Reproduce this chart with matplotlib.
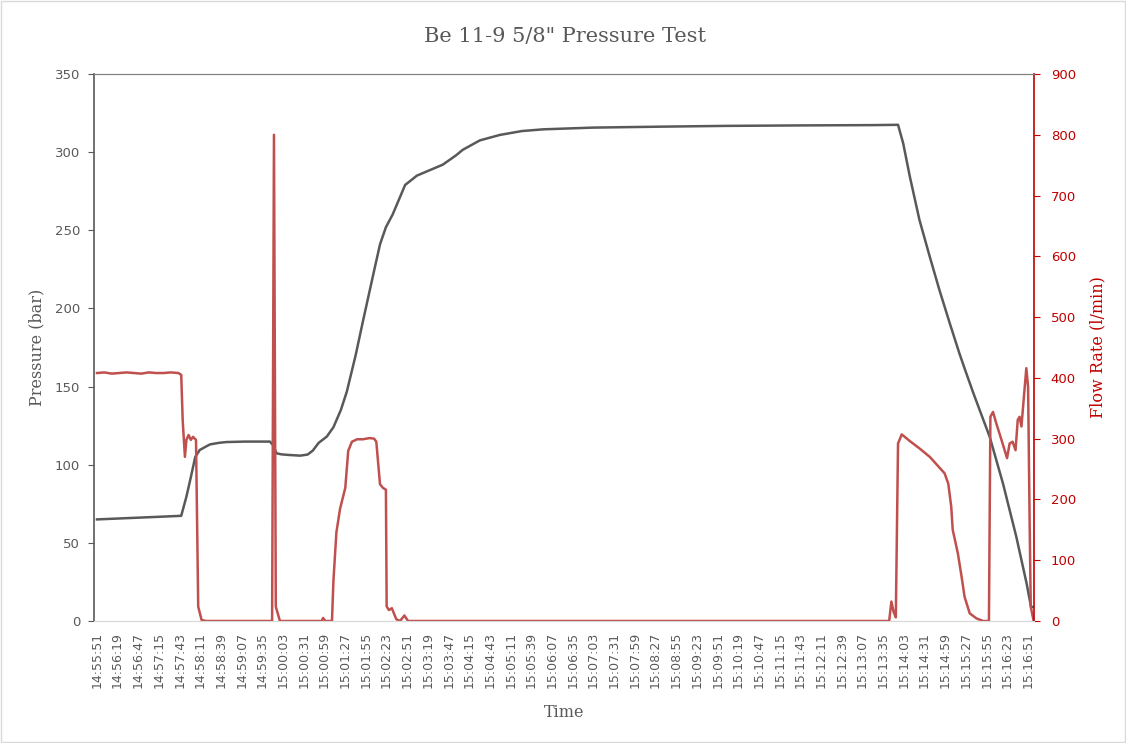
"""Pressure test chart: pressure (bar) and flow rate (l/min) against time."""

import matplotlib
matplotlib.use("Agg")
import matplotlib.pyplot as plt
from matplotlib.patches import Rectangle
import numpy as np

# seconds after 14:55:51
time_p = [0, 30, 60, 90, 114, 121, 127, 133, 139, 147, 153, 165, 175, 200, 234, 238,
          243, 250, 261, 275, 285, 292, 300, 311, 320, 330, 338, 350, 360, 374, 383,
          391, 400, 417, 433, 468, 486, 495, 518, 545, 575, 604, 671, 762, 850, 950,
          1050, 1084, 1091, 1100, 1113, 1127, 1140, 1154, 1167, 1174, 1186, 1208,
          1226, 1244, 1258, 1264, 1267]
pressure = [65, 65.6, 66.2, 66.8, 67.3, 79.5, 92, 105, 109.4, 111.5, 113, 114, 114.5,
            114.8, 114.8, 112.6, 107.3, 106.6, 106.2, 105.8, 106.5, 109, 114, 118, 124,
            135, 146.6, 170, 192, 222, 241, 252, 260, 279, 285, 292, 298, 301.5, 307.5,
            311, 313.5, 314.6, 315.7, 316.3, 316.8, 317.1, 317.3, 317.5, 305.6, 284.3,
            256.6, 233, 211.8, 190.5, 171.3, 161.7, 145.7, 117.9, 88, 54, 24, 9, 9]

time_f = [0, 10, 20, 30, 40, 50, 60, 70, 80, 90, 100, 110, 114, 116, 119, 121, 124,
          127, 130, 134, 137, 141.6, 148, 237, 239.5, 242, 247.6, 304, 306, 309, 318,
          320, 324, 329, 336, 340, 345, 352, 360, 369, 375, 378, 383, 387, 391, 392,
          395, 399, 405, 410, 416, 421, 1072, 1075, 1078, 1081, 1084, 1089, 1100, 1113,
          1127, 1147, 1152, 1156, 1158, 1165, 1170, 1174, 1181, 1190, 1199, 1207, 1209,
          1212.5, 1217, 1224, 1231.5, 1235, 1239, 1243, 1246, 1248.5, 1251, 1254,
          1257.6, 1260, 1262, 1263.6, 1267.5]
flow = [408, 409, 407, 408, 409, 408, 407, 409, 408, 408, 409, 408, 405, 330, 270, 298,
        306, 298, 303, 298, 23.5, 1.6, 0, 0, 800, 23.5, 0, 0, 5, 0, 0, 67, 146, 185, 219,
        280, 295, 299, 299, 301, 300, 295, 225, 219, 216, 24, 18, 21, 3, 0, 9, 0, 0, 32,
        15, 6, 292, 307, 296, 284, 270, 243, 226, 188, 150, 111, 73, 40, 12.6, 4.4, 0, 0,
        336, 344, 325, 298, 268, 292, 295, 281, 331, 336, 320, 364, 416, 385, 172, 23.5, 0]

time_labels = ["14:55:51", "14:56:19", "14:56:47", "14:57:15", "14:57:43", "14:58:11",
               "14:58:39", "14:59:07", "14:59:35", "15:00:03", "15:00:31", "15:00:59",
               "15:01:27", "15:01:55", "15:02:23", "15:02:51", "15:03:19", "15:03:47",
               "15:04:15", "15:04:43", "15:05:11", "15:05:39", "15:06:07", "15:06:35",
               "15:07:03", "15:07:31", "15:07:59", "15:08:27", "15:08:55", "15:09:23",
               "15:09:51", "15:10:19", "15:10:47", "15:11:15", "15:11:43", "15:12:11",
               "15:12:39", "15:13:07", "15:13:35", "15:14:03", "15:14:31", "15:14:59",
               "15:15:27", "15:15:55", "15:16:23", "15:16:51"]
label_step = 28  # seconds between category labels

GREY = "#595959"
RED = "#C00000"
FLOW = "#C0504D"

fig = plt.figure(figsize=(11.26, 7.43), dpi=100)
ax = fig.add_axes([0.0835, 0.1642, 0.9183 - 0.0835, 0.9004 - 0.1642])
ax2 = ax.twinx()

ax.plot(time_p, pressure, color=GREY, lw=1.8, solid_joinstyle="round")
ax2.plot(time_f, flow, color=FLOW, lw=1.8, solid_joinstyle="round")

ax.set_xlim(-4, 1268)
ax.set_ylim(0, 350)
ax.set_yticks(np.arange(0, 351, 50))
ax2.set_ylim(0, 900)
ax2.set_yticks(np.arange(0, 901, 100))

ax.set_xticks(np.arange(len(time_labels)) * label_step)
ax.set_xticklabels(time_labels, rotation=90, fontsize=9, color=GREY)
ax.tick_params(axis="x", length=0, pad=8)
ax.tick_params(axis="y", labelsize=9.5, labelcolor=GREY, color=GREY, length=4,
               direction="out", pad=6)
ax2.tick_params(axis="y", labelsize=9.5, labelcolor=RED, color=RED, length=4,
                direction="out", pad=8)

for s in ("top", "left"):
    ax2.spines[s].set_visible(False)
ax2.spines["right"].set_color(RED)
ax2.spines["right"].set_linewidth(1.2)
ax2.spines["bottom"].set_color("#D9D9D9")
ax2.spines["top"].set_visible(True)
ax2.spines["top"].set_color("#7F7F7F")
ax.spines["left"].set_color(GREY)
ax.spines["left"].set_linewidth(1.2)
ax.spines["right"].set_visible(False)
ax.spines["top"].set_color("#7F7F7F")
ax.spines["bottom"].set_color("#D9D9D9")

serif = "DejaVu Serif"
fig.suptitle("Be 11-9 5/8\" Pressure Test", x=0.502, y=0.963, fontsize=15,
             family=serif, color=GREY)
ax.set_ylabel("Pressure (bar)", family=serif, fontsize=11.5, color=GREY, labelpad=7)
ax2.set_ylabel("Flow Rate (l/min)", family=serif, fontsize=11.5, color=RED, labelpad=10)
ax.set_xlabel("Time", family=serif, fontsize=11.5, color=GREY, labelpad=11)

fig.patches.append(Rectangle((0.001, 0.001), 0.998, 0.998, transform=fig.transFigure,
                             fill=False, edgecolor="#D9D9D9", lw=1))

fig.savefig("out.png", dpi=100)
